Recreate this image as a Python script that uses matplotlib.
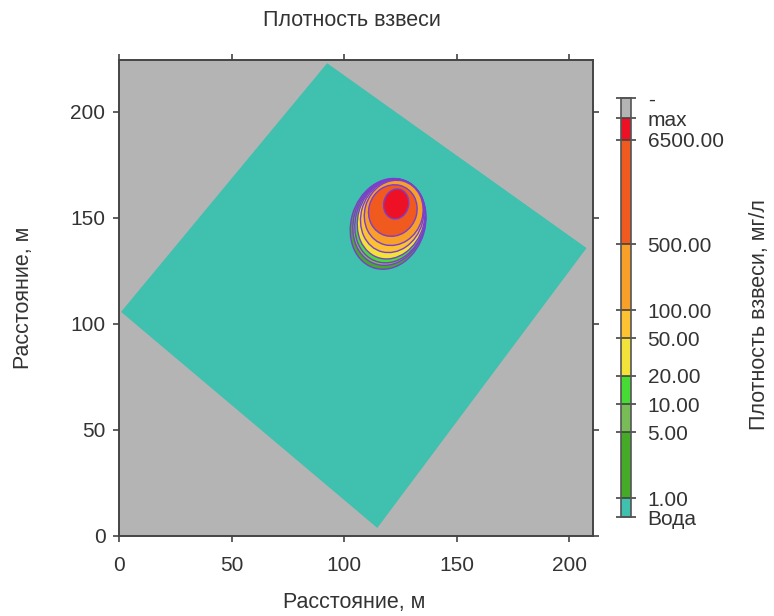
import matplotlib.pyplot as plt
from matplotlib.patches import Ellipse, Polygon
from matplotlib.ticker import NullLocator

plt.rcParams['font.family'] = ['Liberation Sans', 'DejaVu Sans']

# Контур расчётной области (вершины повернутого прямоугольника), м
domain_x = [0.8, 92.4, 207.7, 114.7]
domain_y = [105.7, 223.0, 135.8, 3.8]

# Изолинии концентрации: нижняя граница уровня, мг/л
levels = [1, 5, 10, 20, 50, 100, 500, 6500]
level_colors = ['#44aa28', '#78bc58', '#46dc34', '#f2e23a',
                '#fcc232', '#f8a028', '#f05a1e', '#ee1024']
# Эллипсы изолиний: центр, ширина, высота (м), наклон (град)
plume_cx = [119.5, 120.0, 120.4, 120.8, 121.3, 122.0, 121.6, 123.1]
plume_cy = [147.2, 148.1, 148.6, 149.5, 150.9, 152.4, 153.5, 156.6]
plume_w = [32.9, 31.6, 30.7, 29.4, 27.6, 25.8, 21.4, 11.1]
plume_h = [43.4, 41.5, 40.1, 38.2, 34.9, 31.1, 24.5, 14.2]
plume_angle = [-15, -15, -15, -15, -15, -15, -15, -10]

# Шкала цветов
water_color = '#40c0ae'
over_color = '#b4b4b4'
cb_bottom = 0.63
cb_max = 11000
cb_top = 18000
cb_labels = ['Вода', '1.00', '5.00', '10.00', '20.00', '50.00', '100.00',
             '500.00', '6500.00', 'max', '-']

fig = plt.figure(figsize=(7.74, 6.16), dpi=100)
ax = fig.add_axes([0.1541, 0.1299, 0.6124, 0.7727])

ax.set_facecolor(over_color)
ax.add_patch(Polygon(list(zip(domain_x, domain_y)), closed=True,
                     facecolor=water_color, edgecolor='none'))

for i, lev in enumerate(levels):
    ax.add_patch(Ellipse((plume_cx[i], plume_cy[i]), plume_w[i], plume_h[i],
                         angle=plume_angle[i], facecolor=level_colors[i],
                         edgecolor='#7a3fcc', linewidth=1.0))

ax.set_xlim(0, 210.7)
ax.set_ylim(0, 224.5)
ax.set_xticks(range(0, 201, 50))
ax.set_yticks(range(0, 201, 50))
ax.tick_params(direction='out', length=4, width=1.2, colors='#444444',
               labelcolor='#333333', labelsize=15, top=True, right=True)
ax.tick_params(axis='x', pad=10.5)
ax.tick_params(axis='y', pad=6)
for sp in ax.spines.values():
    sp.set_color('#444444')
    sp.set_linewidth(1.4)

txt = dict(ha='center', va='center', color='#333333', fontsize=15.5)
fig.text(0.455, 0.966, 'Плотность взвеси', **txt)
fig.text(0.457, 0.022, 'Расстояние, м', **txt)
fig.text(0.031, 0.516, 'Расстояние, м', rotation=90, **txt)
fig.text(0.981, 0.489, 'Плотность взвеси, мг/л', rotation=90, **txt)

# Шкала цветов: логарифмическая ось с отдельными сегментами
cax = fig.add_axes([0.8023, 0.1607, 0.0129, 0.680])
bounds = [cb_bottom] + levels + [cb_max, cb_top]
seg_colors = [water_color] + level_colors + [over_color]
cax.set_yscale('log')
for lo, hi, c in zip(bounds[:-1], bounds[1:], seg_colors):
    cax.axhspan(lo, hi, color=c, linewidth=0)
cax.set_ylim(cb_bottom, cb_top)
cax.set_xlim(0, 1)
cax.set_xticks([])
cax.set_yticks(bounds)
cax.set_yticklabels(cb_labels)
cax.yaxis.set_minor_locator(NullLocator())
cax.tick_params(axis='y', direction='inout', length=7, width=1.2,
                left=True, right=True, labelleft=False, labelright=True,
                colors='#444444', labelcolor='#333333', labelsize=15, pad=8.5)
for sp in cax.spines.values():
    sp.set_color('#555555')
    sp.set_linewidth(1.2)

fig.savefig('out.png', dpi=100)
